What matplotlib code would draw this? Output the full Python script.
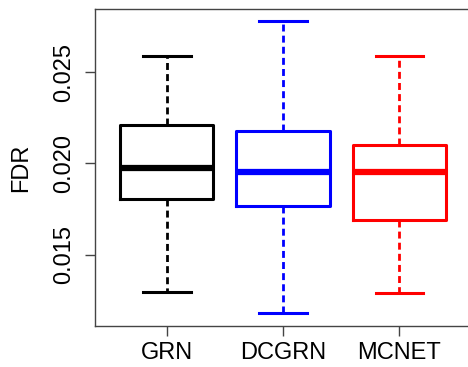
import matplotlib
matplotlib.use("Agg")
import matplotlib.pyplot as plt

plt.rcParams['font.family'] = ['Liberation Sans', 'DejaVu Sans']
plt.rcParams['lines.scale_dashes'] = False

categories = ["GRN", "DCGRN", "MCNET"]
whisker_low = [0.01296, 0.01177, 0.01288]
q1_values = [0.01805, 0.01766, 0.01691]
medians = [0.01974, 0.01952, 0.01952]
q3_values = [0.02210, 0.02180, 0.02102]
whisker_high = [0.02592, 0.02781, 0.02592]
colors = ["black", "#0000FF", "#FF0000"]
yticks = [0.015, 0.020, 0.025]
ytick_labels = ["0.015", "0.020", "0.025"]

fig = plt.figure(figsize=(4.68, 3.67), dpi=100)
ax = fig.add_axes([95/468, 1 - 325.7/367, (471.5 - 95)/468, (325.7 - 9.3)/367])

for i, cat in enumerate(categories):
    stats = [dict(label=cat, whislo=whisker_low[i], q1=q1_values[i], med=medians[i],
                  q3=q3_values[i], whishi=whisker_high[i], fliers=[])]
    c = colors[i]
    ax.bxp(stats, positions=[i + 1], widths=0.8, showfliers=False,
           boxprops=dict(color=c, linewidth=2.2),
           medianprops=dict(color=c, linewidth=4.5, solid_capstyle='butt'),
           whiskerprops=dict(color=c, linewidth=2.0, linestyle=(0, (5, 3))),
           capprops=dict(color=c, linewidth=2.2),
           capwidths=0.41, manage_ticks=False)

ax.set_xlim(0.384, 3.62)
ax.set_ylim(0.01109, 0.02847)
ax.set_xticks([1, 2, 3])
ax.set_xticklabels(categories, fontsize=17)
ax.set_yticks(yticks)
ax.set_yticklabels(ytick_labels, fontsize=17, rotation=90, va='center')
ax.set_ylabel("FDR", fontsize=17, labelpad=15)

for s in ax.spines.values():
    s.set_color('#444444')
    s.set_linewidth(1.0)
ax.spines['right'].set_visible(False)
ax.tick_params(axis='both', length=7, width=1.0, color='#444444')
ax.tick_params(axis='x', pad=5)
ax.tick_params(axis='y', pad=7.5)

fig.savefig("out.png", dpi=100)
